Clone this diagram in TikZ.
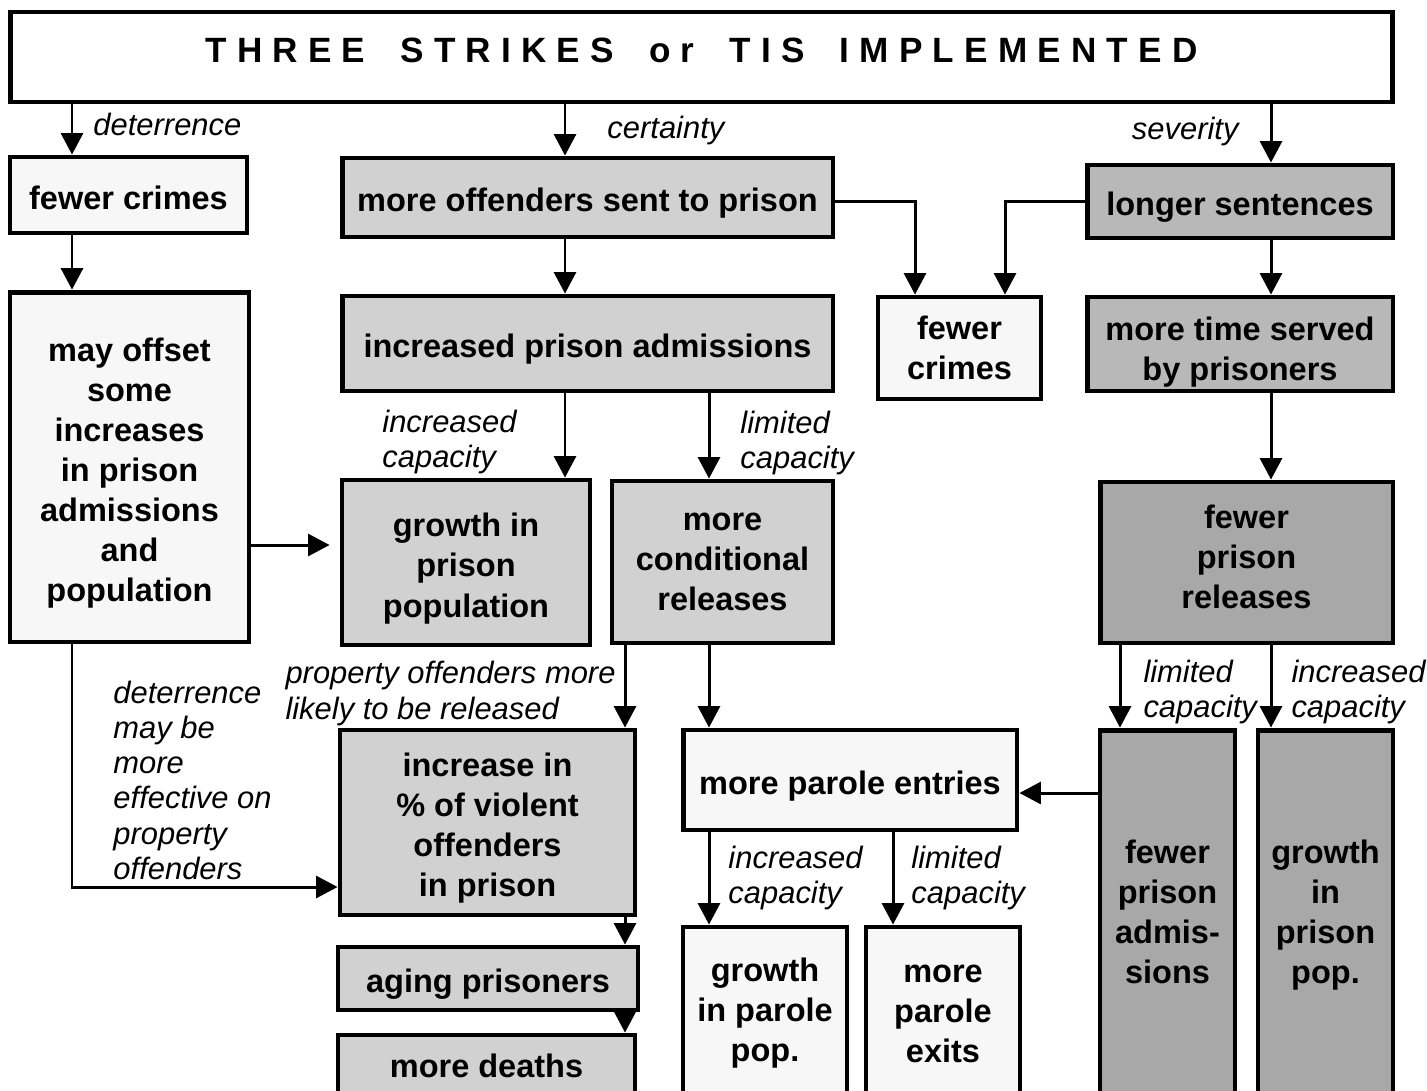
\documentclass[tikz,border=0pt]{standalone}
\usepackage{fontspec}
\setmainfont{Liberation Sans}
\newfontfamily\headfont[LetterSpace=29]{Liberation Sans}
\usetikzlibrary{positioning,arrows.meta}
\newcommand{\boxfont}{\fontsize{18.5}{22.8}\selectfont\bfseries}
\newcommand{\labfont}{\fontsize{17.6}{20}\selectfont\itshape}
\newcommand{\topgap}[1]{\rule{0pt}{#1}}
\newcommand{\botgap}[1]{\rule[-#1]{0pt}{#1}}
\newcommand{\wgap}{\hspace{1em}}

\begin{document}
\begin{tikzpicture}[x=0.02cm,y=-0.02cm,
            box/.style={draw,line width=2.8pt,align=center,inner sep=0pt,font=\boxfont},
            one/.style={text height=20pt,text depth=4pt},
            plain/.style={box,fill=black!3},
            tinted/.style={box,fill=black!18},
            shaded/.style={box,fill=black!28},
            deep/.style={box,fill=black!34},
            arr/.style={line width=1.7pt,-{Triangle[width=0.44cm,length=0.43cm]}},
            lab/.style={inner sep=0pt,align=left,font=\labfont}]
            \useasboundingbox (0,0) rectangle (1427,1090);
            \node[box,fill=white,minimum width=27.66cm,minimum height=1.8cm,text depth=8pt,font=\headfont\fontsize{20}{24}\selectfont\bfseries] (top) at (701.5,57) {THREE\wgap STRIKES\wgap or\wgap TIS\wgap IMPLEMENTED};
            \node[plain,one,minimum width=4.74cm,minimum height=1.52cm] (f1) at (128.5,195) {fewer crimes};
            \node[tinted,one,minimum width=9.82cm,minimum height=1.58cm] (o1) at (587.5,197.5) {more offenders sent to prison};
            \node[shaded,one,minimum width=6.12cm,minimum height=1.46cm] (l1) at (1240,201.5) {longer sentences};
            \node[plain,minimum width=4.78cm,minimum height=7cm] (m1) at (129.5,467) {\topgap{20.3pt}may offset\\some\\increases\\in prison\\admissions\\and\\population};
            \node[tinted,one,minimum width=9.82cm,minimum height=1.9cm] (a1) at (587.5,343.5) {increased prison admissions};
            \node[plain,minimum width=3.26cm,minimum height=2.04cm] (f2) at (959.5,348) {fewer\\crimes};
            \node[shaded,minimum width=6.12cm,minimum height=1.88cm] (s1) at (1240,344) {\topgap{22.6pt}more time served\\by prisoners};
            \node[tinted,minimum width=4.96cm,minimum height=3.3cm] (g1) at (466,562.5) {\topgap{20.3pt}growth in\\prison\\population};
            \node[tinted,minimum width=4.42cm,minimum height=3.24cm] (r1) at (722.5,562) {more\\conditional\\releases};
            \node[deep,minimum width=5.86cm,minimum height=3.22cm] (r2) at (1246.5,562.5) {fewer\\prison\\releases\botgap{6.8pt}};
            \node[tinted,minimum width=5.9cm,minimum height=3.7cm] (v1) at (487.5,822.5) {\topgap{20pt}increase in\\\% of violent\\offenders\\in prison};
            \node[plain,one,minimum width=6.68cm,minimum height=2cm] (p1) at (850,780) {more parole entries};
            \node[deep,minimum width=2.7cm,minimum height=7.4cm] (a2) at (1167.5,915) {fewer\\prison\\admis-\\sions\botgap{3.4pt}};
            \node[deep,minimum width=2.7cm,minimum height=7.4cm] (g2) at (1325.5,915) {growth\\in\\prison\\pop.};
            \node[tinted,one,minimum width=6cm,minimum height=1.26cm] (ag) at (488,978.5) {aging prisoners};
            \node[tinted,one,text height=15.3pt,minimum width=5.94cm,minimum height=1.3cm] (d1) at (486.5,1067.5) {more deaths};
            \node[plain,minimum width=3.28cm,minimum height=3.46cm] (g3) at (765,1013.5) {growth\\in parole\\pop.};
            \node[plain,minimum width=3.08cm,minimum height=3.46cm] (e1) at (943,1013.5) {more\\parole\\exits};
            \coordinate (xa) at (72,0);
            \coordinate (xb) at (565,0);
            \coordinate (xc) at (709,0);
            \coordinate (xd) at (625,0);
            \coordinate (xe) at (915,0);
            \coordinate (xf) at (1005,0);
            \coordinate (xg) at (1120,0);
            \coordinate (xh) at (1271,0);
            \coordinate (xj) at (893,0);
            \coordinate (ya) at (0,545);
            \coordinate (yb) at (0,887);
            \coordinate (yc) at (0,793);
            \coordinate (yd) at (0,201);
            \draw[arr] (top.south -| xa) -- node[lab,right=0.4cm,pos=0.4] (n1) {deterrence} (f1.north -| xa);
            \draw[arr] (top.south -| xb) -- node[lab,right=0.82cm,pos=0.5] (n2) {certainty} (o1.north -| xb);
            \draw[arr] (top.south -| xh) -- node[lab,left=0.62cm,pos=0.47] (n3) {severity} (l1.north -| xh);
            \draw[arr] (f1.south -| xa) -- (m1.north -| xa);
            \draw[arr] (o1.south -| xb) -- (a1.north -| xb);
            \draw[arr] (o1.east |- yd) -| (f2.north -| xe);
            \draw[arr] (l1.west |- yd) -| (f2.north -| xf);
            \draw[arr] (l1.south -| xh) -- (s1.north -| xh);
            \draw[arr] (a1.south -| xb) -- node[lab,left=0.94cm,pos=0.575] (n4) {increased\\capacity} (g1.north -| xb);
            \draw[arr] (a1.south -| xc) -- node[lab,right=0.6cm,pos=0.585] (n5) {limited\\capacity} (r1.north -| xc);
            \draw[arr] (s1.south -| xh) -- (r2.north -| xh);
            \draw[arr,shorten >=0.2cm] (m1.east |- ya) -- (g1.west |- ya);
            \draw[arr] (m1.south -| xa) |- node[lab,right=0.8cm,pos=0.28] (n6) {deterrence\\may be\\more\\effective on\\property\\offenders} (v1.west |- yb);
            \draw[arr] (r1.south -| xd) -- node[lab,left=0.16cm,pos=0.585] (n7) {property offenders more\\likely to be released} (v1.north -| xd);
            \draw[arr] (r1.south -| xc) -- (p1.north -| xc);
            \draw[arr] (r2.south -| xg) -- node[lab,right=0.44cm,pos=0.565] (n8) {limited\\capacity} (a2.north -| xg);
            \draw[arr] (r2.south -| xh) -- node[lab,right=0.38cm,pos=0.565] (n9) {increased\\capacity} (g2.north -| xh);
            \draw[arr] (a2.west |- yc) -- (p1.east |- yc);
            \draw[arr] (p1.south -| xc) -- node[lab,right=0.36cm,pos=0.49] (n10) {increased\\capacity} (g3.north -| xc);
            \draw[arr] (p1.south -| xj) -- node[lab,right=0.34cm,pos=0.49] (n11) {limited\\capacity} (e1.north -| xj);
            \draw[arr] (v1.south -| xd) -- (ag.north -| xd);
            \draw[arr] (ag.south -| xd) -- (d1.north -| xd);
\end{tikzpicture}
\end{document}
